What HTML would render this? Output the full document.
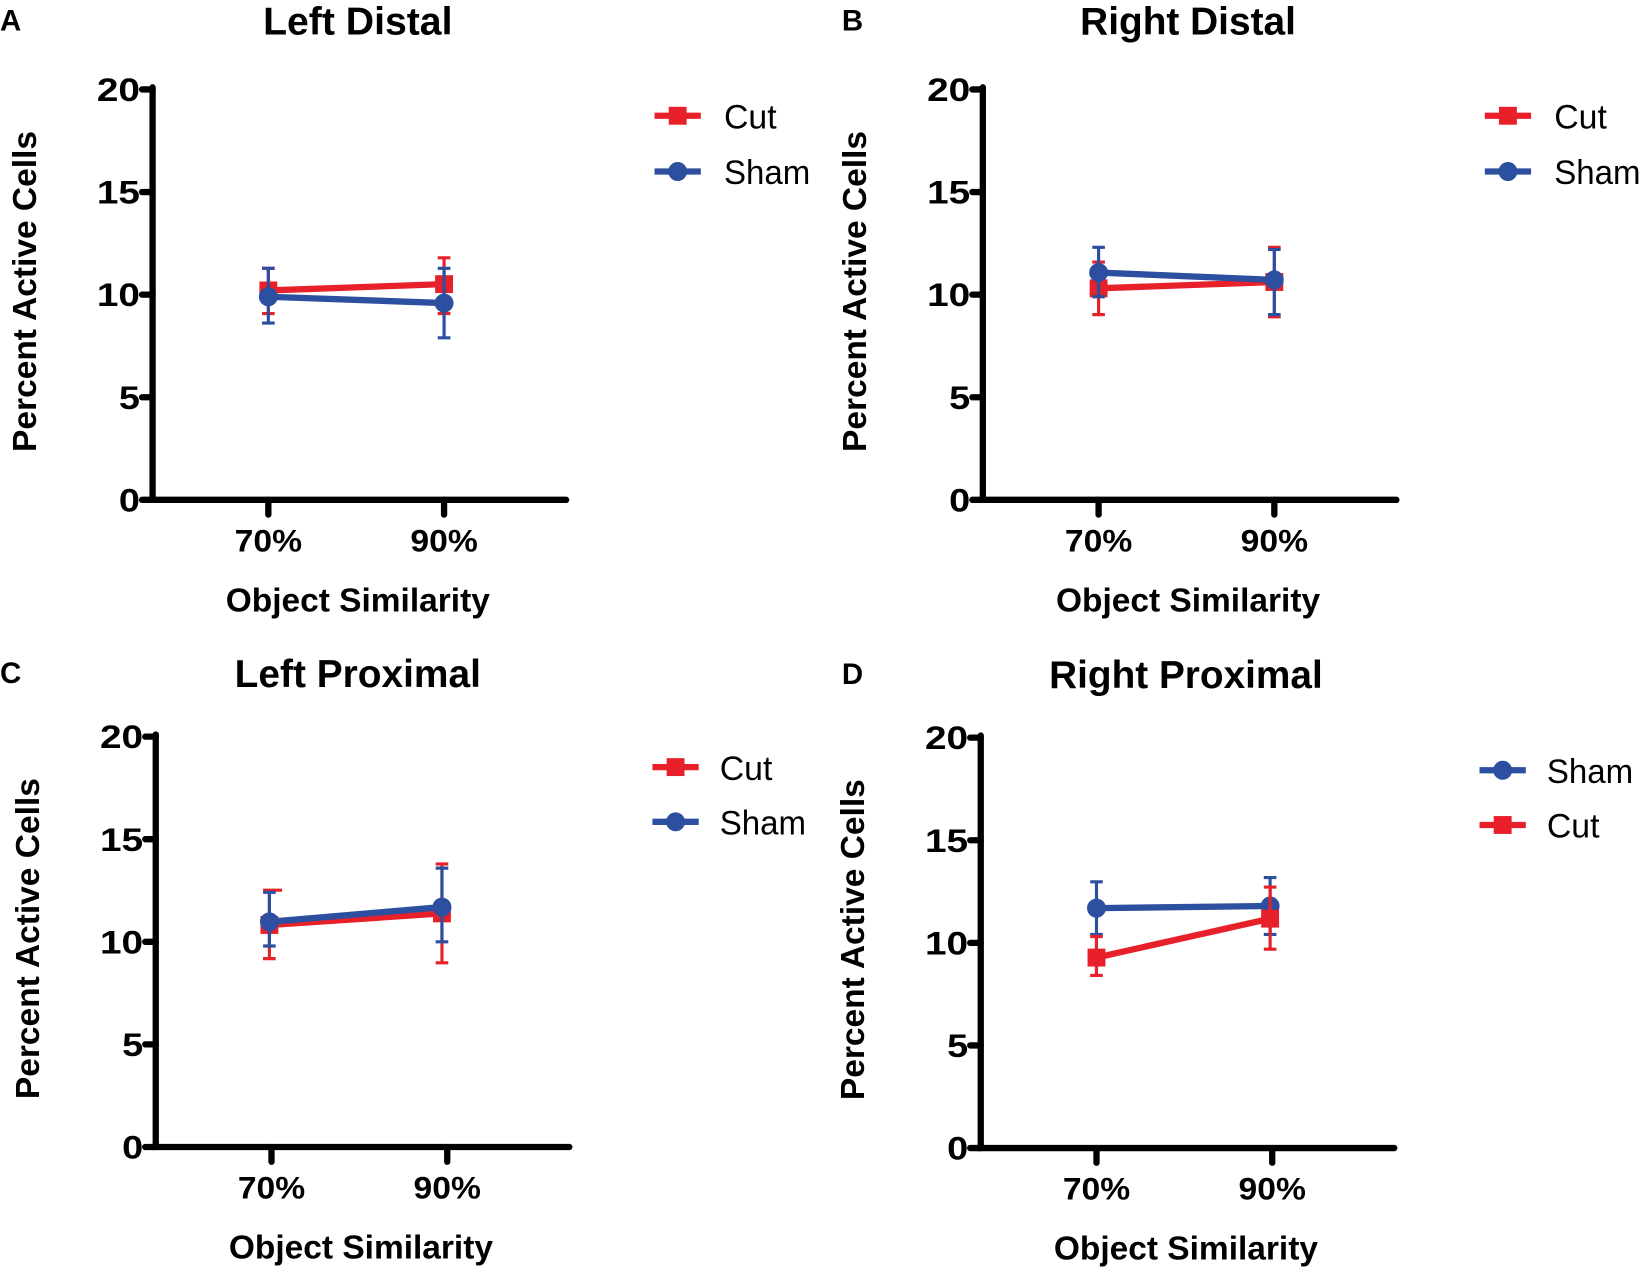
<!DOCTYPE html>
<html><head><meta charset="utf-8"><style>
html,body{margin:0;padding:0;background:#fff;}
svg{display:block;}
text{font-family:"Liberation Sans",Arial,sans-serif;}
.t{font-weight:bold;font-size:37px;text-anchor:middle;}
.yl{font-weight:bold;font-size:31px;text-anchor:end;}
.xl{font-weight:bold;font-size:30px;text-anchor:middle;}
.at{font-weight:bold;font-size:32px;text-anchor:middle;}
.lg{font-size:33px;}
.pl{font-weight:bold;font-size:28px;}
.ax{stroke:#000;stroke-width:6;fill:none;stroke-linecap:round;}
.r{stroke:#e8202a;fill:#e8202a;}
.b{stroke:#2d4fa0;fill:#2d4fa0;}
.ln{stroke-width:6;fill:none;}
.eb{stroke-width:3;fill:none;}
</style></head><body>
<svg width="1650" height="1278" viewBox="0 0 1568 1214.5" xmlns="http://www.w3.org/2000/svg">
<defs>
<g id="axes">
<path class="ax" d="M0,-392 V0 H393"/>
<path class="ax" d="M-10,-390 H0 M-10,-292.5 H0 M-10,-195 H0 M-10,-97.5 H0 M-10,0 H0 M110,0 V14 M277,0 V14"/>
<text class="yl" x="-12" y="-379" textLength="41" lengthAdjust="spacingAndGlyphs">20</text>
<text class="yl" x="-12" y="-281.5" textLength="41" lengthAdjust="spacingAndGlyphs">15</text>
<text class="yl" x="-12" y="-184" textLength="41" lengthAdjust="spacingAndGlyphs">10</text>
<text class="yl" x="-12" y="-86.5" textLength="20" lengthAdjust="spacingAndGlyphs">5</text>
<text class="yl" x="-12" y="11" textLength="20" lengthAdjust="spacingAndGlyphs">0</text>
<text class="xl" x="110" y="49" textLength="64" lengthAdjust="spacingAndGlyphs">70%</text>
<text class="xl" x="277" y="49" textLength="64" lengthAdjust="spacingAndGlyphs">90%</text>
<text class="at" x="195" y="106" textLength="251" lengthAdjust="spacingAndGlyphs">Object Similarity</text>
<text class="at" transform="translate(-111,-198) rotate(-90)" textLength="305" lengthAdjust="spacingAndGlyphs">Percent Active Cells</text>
</g>
</defs>

<!-- A -->
<g transform="translate(145,475)">
<use href="#axes"/>
<text class="t" x="195" y="-442" textLength="180" lengthAdjust="spacingAndGlyphs">Left Distal</text>
<text class="pl" x="-145" y="-446">A</text>
<g class="r"><path class="eb" d="M110,-177 V-220 M104,-177 H116 M104,-220 H116 M277,-177 V-230 M271,-177 H283 M271,-230 H283"/>
<path class="ln" d="M110,-199 L277,-205"/><rect x="102" y="-207" width="16" height="16"/><rect x="269" y="-213" width="16" height="16"/></g>
<g class="b"><path class="eb" d="M110,-168 V-220 M104,-168 H116 M104,-220 H116 M277,-154 V-220 M271,-154 H283 M271,-220 H283"/>
<path class="ln" d="M110,-193 L277,-187"/><circle cx="110" cy="-193" r="8.5"/><circle cx="277" cy="-187" r="8.5"/></g>
<g class="r"><path class="ln" d="M477,-365 H521"/><rect x="491" y="-373" width="16" height="16"/></g>
<text class="lg" x="543" y="-353" textLength="50" lengthAdjust="spacingAndGlyphs">Cut</text>
<g class="b"><path class="ln" d="M477,-312 H521"/><circle cx="499" cy="-312" r="8.5"/></g>
<text class="lg" x="543" y="-300" textLength="82" lengthAdjust="spacingAndGlyphs">Sham</text>
</g>

<!-- B -->
<g transform="translate(934,475)">
<use href="#axes"/>
<text class="t" x="195" y="-442" textLength="205" lengthAdjust="spacingAndGlyphs">Right Distal</text>
<text class="pl" x="-134" y="-446">B</text>
<g class="r"><path class="eb" d="M110,-176 V-226 M104,-176 H116 M104,-226 H116 M277,-174 V-240 M271,-174 H283 M271,-240 H283"/>
<path class="ln" d="M110,-201 L277,-207"/><rect x="102" y="-209" width="16" height="16"/><rect x="269" y="-215" width="16" height="16"/></g>
<g class="b"><path class="eb" d="M110,-193 V-240 M104,-193 H116 M104,-240 H116 M277,-176 V-238 M271,-176 H283 M271,-238 H283"/>
<path class="ln" d="M110,-216 L277,-209"/><circle cx="110" cy="-216" r="8.5"/><circle cx="277" cy="-209" r="8.5"/></g>
<g class="r"><path class="ln" d="M477,-365 H521"/><rect x="491" y="-373" width="16" height="16"/></g>
<text class="lg" x="543" y="-353" textLength="50" lengthAdjust="spacingAndGlyphs">Cut</text>
<g class="b"><path class="ln" d="M477,-312 H521"/><circle cx="499" cy="-312" r="8.5"/></g>
<text class="lg" x="543" y="-300" textLength="82" lengthAdjust="spacingAndGlyphs">Sham</text>
</g>

<!-- C -->
<g transform="translate(148,1090)">
<use href="#axes"/>
<text class="t" x="192" y="-437" textLength="234" lengthAdjust="spacingAndGlyphs">Left Proximal</text>
<text class="pl" x="-148" y="-441">C</text>
<g class="r"><path class="eb" d="M108,-179 V-244 M102,-179 H114 M102,-244 H120 M272,-175 V-269 M266,-175 H278 M266,-269 H278"/>
<path class="ln" d="M108,-211 L272,-222"/><rect x="100" y="-219" width="16" height="16"/><rect x="264" y="-230" width="16" height="16"/></g>
<g class="b"><path class="eb" d="M108,-191 V-242 M102,-191 H114 M102,-242 H114 M272,-195 V-265 M266,-195 H278 M266,-265 H278"/>
<path class="ln" d="M108,-214 L272,-228"/><circle cx="108" cy="-214" r="8.5"/><circle cx="272" cy="-228" r="8.5"/></g>
<g class="r"><path class="ln" d="M472,-361 H516"/><rect x="486" y="-369" width="16" height="16"/></g>
<text class="lg" x="536" y="-349" textLength="50" lengthAdjust="spacingAndGlyphs">Cut</text>
<g class="b"><path class="ln" d="M472,-309 H516"/><circle cx="494" cy="-309" r="8.5"/></g>
<text class="lg" x="536" y="-297" textLength="82" lengthAdjust="spacingAndGlyphs">Sham</text>
</g>

<!-- D -->
<g transform="translate(932,1091)">
<use href="#axes"/>
<text class="t" x="195" y="-437" textLength="260" lengthAdjust="spacingAndGlyphs">Right Proximal</text>
<text class="pl" x="-132" y="-441">D</text>
<g class="b"><path class="eb" d="M110,-203 V-253 M104,-203 H116 M104,-253 H116 M275,-203 V-257 M269,-203 H281 M269,-257 H281"/>
<path class="ln" d="M110,-228 L275,-230"/><circle cx="110" cy="-228" r="8.5"/><circle cx="275" cy="-230" r="8.5"/></g>
<g class="r"><path class="eb" d="M110,-164 V-201 M104,-164 H116 M104,-201 H116 M275,-189 V-248 M269,-189 H281 M269,-248 H281"/>
<path class="ln" d="M110,-181 L275,-218"/><rect x="102" y="-189" width="16" height="16"/><rect x="267" y="-226" width="16" height="16"/></g>
<g class="b"><path class="ln" d="M474,-359 H518"/><circle cx="496" cy="-359" r="8.5"/></g>
<text class="lg" x="538" y="-347" textLength="82" lengthAdjust="spacingAndGlyphs">Sham</text>
<g class="r"><path class="ln" d="M474,-307 H518"/><rect x="488" y="-315" width="16" height="16"/></g>
<text class="lg" x="538" y="-295" textLength="50" lengthAdjust="spacingAndGlyphs">Cut</text>
</g>
</svg>
</body></html>
